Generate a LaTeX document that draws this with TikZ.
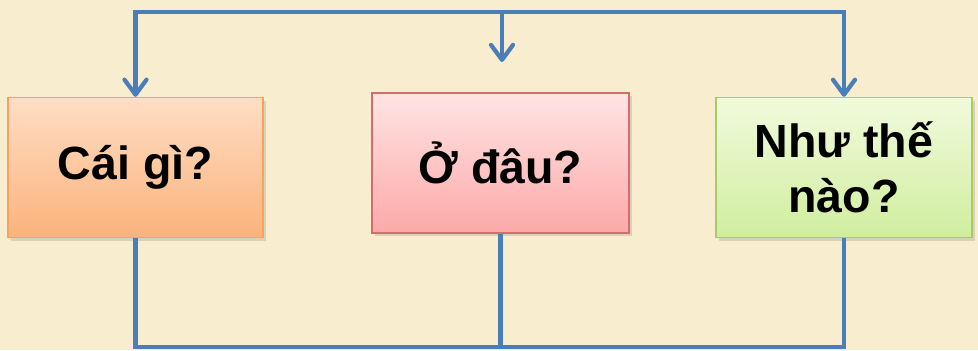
\documentclass[tikz,border=0pt]{standalone}
\usepackage{fontspec}
\setmainfont{Liberation Sans}
\usepackage{tikz}
\usetikzlibrary{arrows.meta, positioning, shadows}
\definecolor{mBlue}{HTML}{4A7EBB}
\definecolor{mPaper}{HTML}{F9EDCF}
\definecolor{mOrangeTop}{HTML}{FFDEC4}
\definecolor{mOrangeBot}{HTML}{FBB27C}
\definecolor{mOrangeRim}{HTML}{F5A45E}
\definecolor{mPinkTop}{HTML}{FFE4E4}
\definecolor{mPinkBot}{HTML}{FCA9A9}
\definecolor{mPinkRim}{HTML}{D46E6C}
\definecolor{mGreenTop}{HTML}{F1FADD}
\definecolor{mGreenBot}{HTML}{D0EE9E}
\definecolor{mGreenRim}{HTML}{A6CB6C}

\begin{document}
\begin{tikzpicture}[>={Straight Barb[length=3mm, width=4.4mm, round]},
      link/.style={draw=mBlue, line width=2.4pt},
      qbox/.style={rectangle, draw, line width=0.8pt, minimum width=5.1cm,
                   minimum height=2.8cm, align=center, inner sep=2pt,
                   font=\fontsize{26.5}{31}\selectfont\bfseries,
                   drop shadow={shadow xshift=0.6mm, shadow yshift=-0.6mm,
                                opacity=0.25}}]
    \fill[mPaper] (0,0) rectangle (19.56,7);
    \useasboundingbox (0,0) rectangle (19.56,7);

    \node[qbox, draw=mOrangeRim, top color=mOrangeTop, bottom color=mOrangeBot]
      (cai) at (2.71,3.65) {Cái gì?};
    \node[qbox, draw=mPinkRim, top color=mPinkTop, bottom color=mPinkBot,
          minimum width=5.14cm] (odau) at (10.01,3.74) {Ở đâu?};
    \node[qbox, draw=mGreenRim, top color=mGreenTop, bottom color=mGreenBot,
          minimum width=5.12cm] (nhuthe) at (16.88,3.65) {Như thế\\nào?};

    \coordinate (top) at (10.04,6.76);
    \coordinate (tip) at (10.04,5.76);
    \coordinate (bot) at (10.01,0.06);

    \draw[link, <->] (cai.north) |- (top) -| (nhuthe.north);
    \draw[link, ->] (top) -- (tip);
    \draw[link] (cai.south) |- (bot) -| (nhuthe.south);
    \draw[link] (odau.south) -- (bot);
  \end{tikzpicture}
\end{document}
